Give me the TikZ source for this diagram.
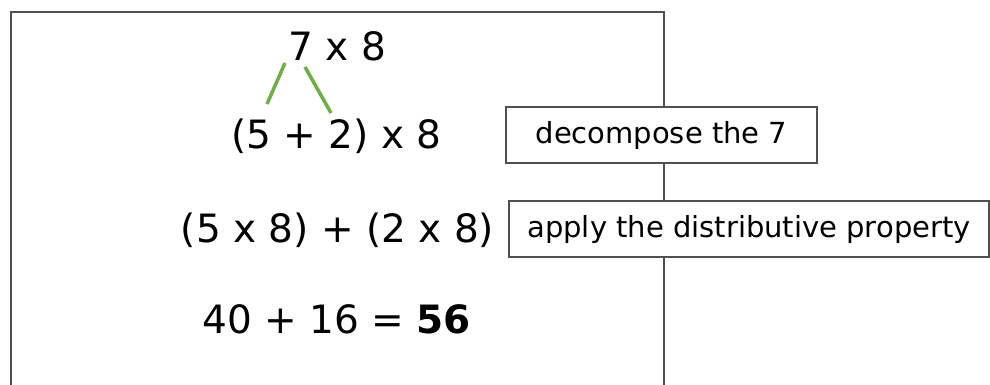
\documentclass[tikz,border=0pt]{standalone}
\usepackage{fontspec}
\setmainfont{DejaVu Sans}
\definecolor{framegray}{HTML}{505050}
\definecolor{leafgreen}{HTML}{70AD47}
\begin{document}
\begin{tikzpicture}[x=1pt,y=-1pt,
  bigtext/.style={font=\fontsize{39}{42}\selectfont, inner sep=0pt, anchor=base},
  labelbox/.style={draw=framegray, line width=1.2pt, fill=white, font=\fontsize{29}{32}\selectfont, inner sep=0pt},
  branch/.style={draw=leafgreen, line width=3.5pt}]
\useasboundingbox (0,0) rectangle (990,384);
\clip (0,0) rectangle (990,384);
\fill[white] (0,0) rectangle (990,384);
\draw[framegray, line width=2pt] (11,400) -- (11,12) -- (664,12) -- (664,400);
\node[bigtext] (top) at (337.5,60) {7 x 8};
\node[bigtext] (row2) at (336.5,148) {(5 + 2) x 8};
\node[bigtext] (row3) at (337.5,242) {(5 x 8) + (2 x 8)};
\node[bigtext] (row4) at (336.5,333) {40 + 16 = \textbf{56}};
\coordinate (l1a) at (285,63);
\coordinate (l1b) at (267,104);
\coordinate (l2a) at (305,67);
\coordinate (l2b) at (331,113);
\draw[branch] (l1a) -- (l1b);
\draw[branch] (l2a) -- (l2b);
\node[labelbox, minimum width=311pt, minimum height=56pt] (b1) at (661.5,135) {\raisebox{0pt}{decompose the 7}};
\node[labelbox, minimum width=480pt, minimum height=56pt] (b2) at (749,229) {apply the distributive property};
\end{tikzpicture}
\end{document}
